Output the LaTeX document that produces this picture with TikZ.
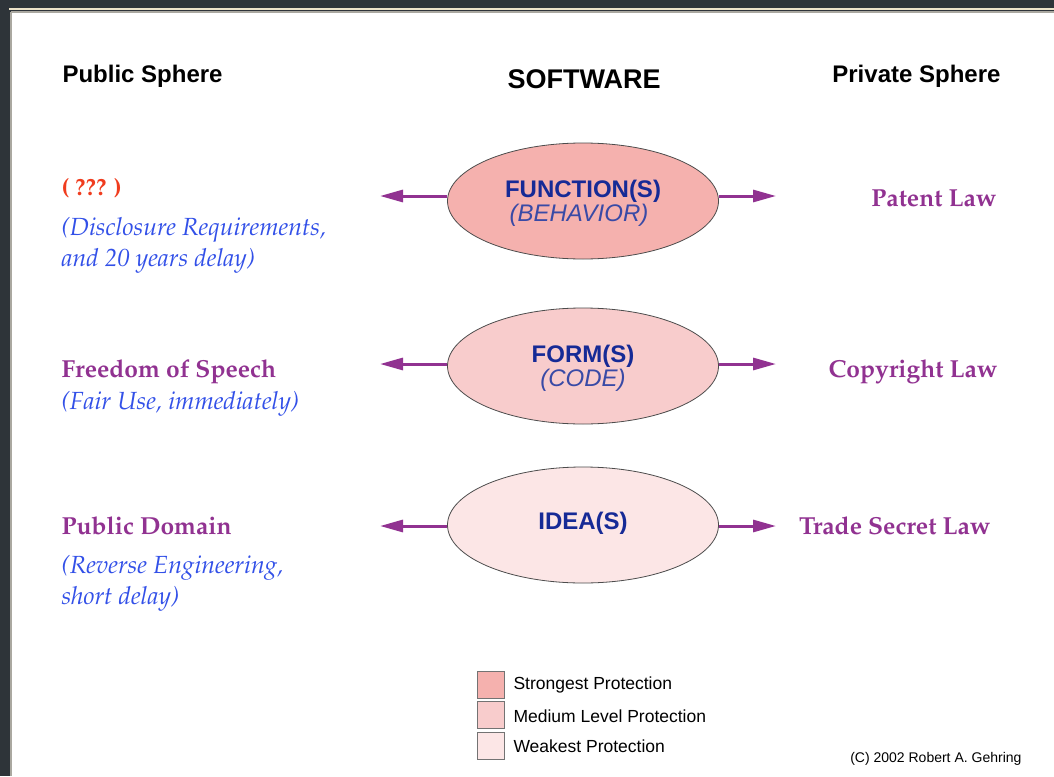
\documentclass[tikz,border=0pt]{standalone}
\usepackage[T1,TU]{fontenc}
\usepackage{fontspec}
\setsansfont{Liberation Sans}
\usepackage{xcolor}
\usetikzlibrary{arrows.meta,shapes.geometric}

\definecolor{slate}{RGB}{46,52,57}
\definecolor{rimbeige}{RGB}{236,226,200}
\definecolor{rimgray}{RGB}{170,168,160}
\definecolor{lawpurple}{RGB}{145,50,145}
\definecolor{askred}{RGB}{240,60,30}
\definecolor{noteblue}{RGB}{50,80,232}
\definecolor{coreblue}{RGB}{22,42,150}
\definecolor{strongfill}{RGB}{245,177,174}
\definecolor{mediumfill}{RGB}{248,204,204}
\definecolor{weakfill}{RGB}{252,230,230}

\newcommand{\pal}{\fontencoding{T1}\fontfamily{ppl}\selectfont}

\tikzset{
  layer/.style={draw=black!70, line width=.8pt, minimum width=271pt, minimum height=116pt,
    ellipse, inner sep=0pt},
  core/.style={align=center, inner sep=0pt, font=\sffamily\fontsize{24}{26}\selectfont},
  lawarrow/.style={draw=lawpurple, line width=3pt, -{Triangle[length=23pt,width=12pt]}},
  key/.style={draw=black!55, line width=.8pt, minimum size=27pt, inner sep=0pt}
}

\begin{document}
\begin{tikzpicture}[x=1pt,y=-1pt]
  \useasboundingbox (0,0) rectangle (1054,776);
  % frame of the slide
  \fill[slate] (0,0) rectangle (1054,776);
  \fill[white] (12,12) rectangle (1054,776);
  \draw[rimbeige, line width=2pt] (9,9.5) -- (1054,9.5);
  \draw[rimgray, line width=1.5pt] (11,12) -- (1054,12);
  \draw[rimgray, line width=1.5pt] (11,12) -- (11,776);

  % headings
  \node[anchor=west, font=\sffamily\bfseries\fontsize{24}{26}\selectfont] (public) at (59,76) {Public Sphere};
  \node[font=\sffamily\bfseries\fontsize{27}{30}\selectfont] (software) at (584,79) {SOFTWARE};
  \node[anchor=east, font=\sffamily\bfseries\fontsize{24}{26}\selectfont] (private) at (1004,76) {Private Sphere};

  % the three layers
  \node[layer, fill=strongfill] (function) at (583,201) {};
  \node[core] (functiontext) at ([yshift=-2pt]function.center)
    {\textcolor{coreblue}{\bfseries FUNCTION(S)}\\[-2pt]\textcolor{coreblue!85!white}{\itshape(BEHAVIOR)\hspace*{8pt}}};
  \node[layer, fill=mediumfill] (form) at (583,366) {};
  \node[core] (formtext) at ([yshift=-2.5pt]form.center)
    {\textcolor{coreblue}{\bfseries FORM(S)}\\[-2pt]\textcolor{coreblue!85!white}{\itshape(CODE)}};
  \node[layer, fill=weakfill] (idea) at (583,525) {};
  \node[core] (ideatext) at ([yshift=2pt]idea.center) {\textcolor{coreblue}{\bfseries IDEA(S)}};

  % arrows to both spheres
  \coordinate (fl) at (380,196);
  \coordinate (fr) at (776,196);
  \coordinate (ml) at (380,364);
  \coordinate (mr) at (776,364);
  \coordinate (il) at (380,526);
  \coordinate (ir) at (776,526);
  \draw[lawarrow] (function.west |- fl) -- (fl);
  \draw[lawarrow] (function.east |- fr) -- (fr);
  \draw[lawarrow] (form.west |- ml) -- (ml);
  \draw[lawarrow] (form.east |- mr) -- (mr);
  \draw[lawarrow] (idea.west |- il) -- (il);
  \draw[lawarrow] (idea.east |- ir) -- (ir);

  % public sphere
  \node[anchor=west, text=askred, font=\pal\bfseries\fontsize{23.5}{25}\selectfont] (ask) at (58,188) {( ??? )};
  \node[anchor=north west, text=noteblue, align=left, font=\pal\itshape\fontsize{24.8}{31}\selectfont] (disclose) at (58,214)
    {(Disclosure Requirements,\\and 20 years delay)};
  \node[anchor=west, text=lawpurple, font=\pal\bfseries\fontsize{24.6}{26}\selectfont] (speech) at (58,372) {Freedom of Speech};
  \node[anchor=west, text=noteblue, font=\pal\itshape\fontsize{24.8}{26}\selectfont] (fairuse) at (58,404) {(Fair Use, immediately)};
  \node[anchor=west, text=lawpurple, font=\pal\bfseries\fontsize{24.6}{26}\selectfont] (domain) at (58,526) {Public Domain};
  \node[anchor=north west, text=noteblue, align=left, font=\pal\itshape\fontsize{24.8}{31}\selectfont] (reverse) at (58,552)
    {(Reverse Engineering,\\short delay)};

  % private sphere
  \node[anchor=east, text=lawpurple, font=\pal\bfseries\fontsize{24.6}{26}\selectfont] (patent) at (1000,198) {Patent Law};
  \node[anchor=east, text=lawpurple, font=\pal\bfseries\fontsize{24.6}{26}\selectfont] (copyright) at (1001,372) {Copyright Law};
  \node[anchor=east, text=lawpurple, font=\pal\bfseries\fontsize{24.6}{26}\selectfont] (secret) at (994,526) {Trade Secret Law};

  % legend
  \node[key, fill=strongfill] (kstrong) at (490.5,684.5) {};
  \node[key, fill=mediumfill] (kmedium) at (490.5,715) {};
  \node[key, fill=weakfill] (kweak) at (490.5,745.5) {};
  \node[anchor=west, font=\sffamily\fontsize{17.5}{19}\selectfont] (tstrong) at (510,685) {Strongest Protection};
  \node[anchor=west, font=\sffamily\fontsize{17.5}{19}\selectfont] (tmedium) at (510,716) {Medium Level Protection};
  \node[anchor=west, font=\sffamily\fontsize{17.5}{19}\selectfont] (tweak) at (510,746) {Weakest Protection};

  \node[anchor=east, font=\sffamily\fontsize{14}{16}\selectfont] (credit) at (1025,759) {(C) 2002 Robert A. Gehring};
\end{tikzpicture}
\end{document}
